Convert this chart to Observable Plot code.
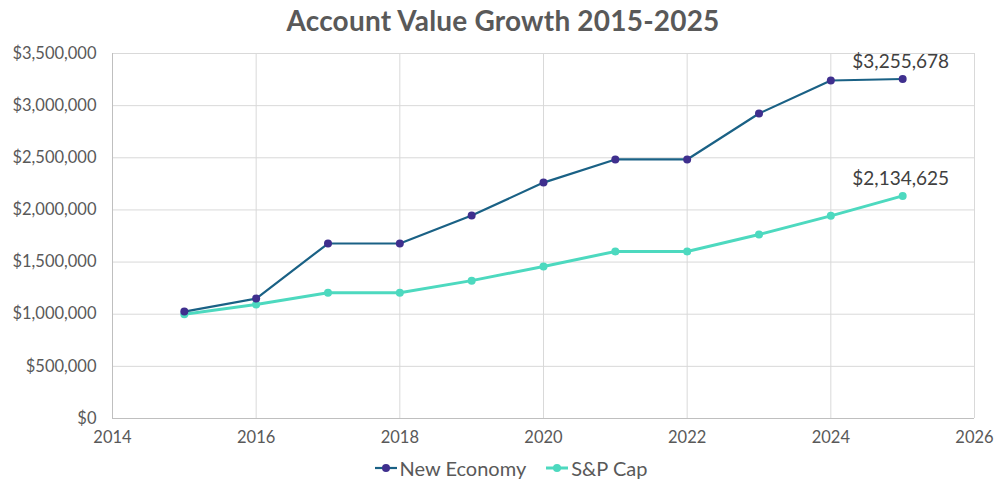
<!DOCTYPE html>
<html>
<head>
<meta charset="utf-8">
<script src="https://cdn.jsdelivr.net/npm/d3@7"></script>
<script src="https://cdn.jsdelivr.net/npm/@observablehq/plot@0.6"></script>
<style>
  html, body { margin: 0; padding: 0; background: #fff; }
  body { width: 994px; height: 482px; overflow: hidden; font-family: Lato, "Open Sans", sans-serif; }
  #title { height: 40px; line-height: 40px; text-align: center; font-size: 28px; font-weight: 700; color: #595959; letter-spacing: 0.2px; padding-left: 12px; }
  #legend { display: flex; justify-content: center; align-items: center; gap: 20px; font-size: 20px; color: #595959; margin-top: 1px; padding-left: 28px; }
  .item { display: flex; align-items: center; gap: 3px; }
</style>
</head>
<body>
<div id="title">Account Value Growth 2015-2025</div>
<div id="chart"></div>
<div id="legend"></div>
<script>
const years = [2015, 2016, 2017, 2018, 2019, 2020, 2021, 2022, 2023, 2024, 2025];
const newEconomy = [1025000, 1150000, 1678000, 1678000, 1947000, 2262000, 2484000, 2484000, 2925000, 3241000, 3255678];
const spCap = [1000000, 1093000, 1205000, 1205000, 1322000, 1458000, 1602000, 1602000, 1764000, 1943000, 2134625];
const seriesNames = ["New Economy", "S&P Cap"];
const lineColors = ["#1a6185", "#4dd9bf"];
const dotColors = ["#3f2f8e", "#4dd9bf"];
const xTicks = [2014, 2016, 2018, 2020, 2022, 2024, 2026];
const yTicks = [0, 500000, 1000000, 1500000, 2000000, 2500000, 3000000, 3500000];

const data = [];
years.forEach((yr, i) => {
  data.push({year: yr, value: newEconomy[i], series: seriesNames[0]});
  data.push({year: yr, value: spCap[i], series: seriesNames[1]});
});
const last = data.filter(d => d.year === years[years.length - 1]);
const fmt = d3.format("$,");

const chart = Plot.plot({
  width: 994,
  height: 415,
  marginLeft: 112,
  marginRight: 20,
  marginTop: 13,
  marginBottom: 37,
  style: {fontFamily: "Lato, 'Open Sans', sans-serif", fontSize: "16px", color: "#595959", background: "#fff"},
  x: {domain: [2014, 2026], label: null},
  y: {domain: [0, 3500000], label: null},
  marks: [
    Plot.gridX(xTicks, {stroke: "#d9d9d9", strokeOpacity: 1}),
    Plot.gridY(yTicks, {stroke: "#d9d9d9", strokeOpacity: 1}),
    Plot.ruleX([2014], {stroke: "#bfbfbf"}),
    Plot.ruleY([0], {stroke: "#bfbfbf"}),
    Plot.axisX({ticks: xTicks, tickFormat: d => String(d), tickSize: 0, tickPadding: 13, fontSize: 16.5, fill: "#595959"}),
    Plot.axisY({ticks: yTicks, tickFormat: fmt, tickSize: 0, tickPadding: 16, fontSize: 16.5, fill: "#595959"}),
    Plot.line(data.filter(d => d.series === seriesNames[1]), {x: "year", y: "value", stroke: lineColors[1], strokeWidth: 3}),
    Plot.dot(data.filter(d => d.series === seriesNames[1]), {x: "year", y: "value", fill: dotColors[1], r: 4}),
    Plot.line(data.filter(d => d.series === seriesNames[0]), {x: "year", y: "value", stroke: lineColors[0], strokeWidth: 2.2}),
    Plot.dot(data.filter(d => d.series === seriesNames[0]), {x: "year", y: "value", fill: dotColors[0], r: 4}),
    Plot.text(last, {x: "year", y: "value", text: d => fmt(d.value), dy: -17, dx: -2, fontSize: 19, fill: "#404040"})
  ]
});
document.getElementById("chart").appendChild(chart);

const legend = document.getElementById("legend");
seriesNames.forEach((name, i) => {
  const item = document.createElement("div");
  item.className = "item";
  item.innerHTML = `<svg width="22" height="12"><line x1="0" y1="6" x2="22" y2="6" stroke="${lineColors[i]}" stroke-width="${i ? 3 : 2.2}"/><circle cx="11" cy="6" r="4" fill="${dotColors[i]}"/></svg><span>${name}</span>`;
  legend.appendChild(item);
});
</script>
</body>
</html>
